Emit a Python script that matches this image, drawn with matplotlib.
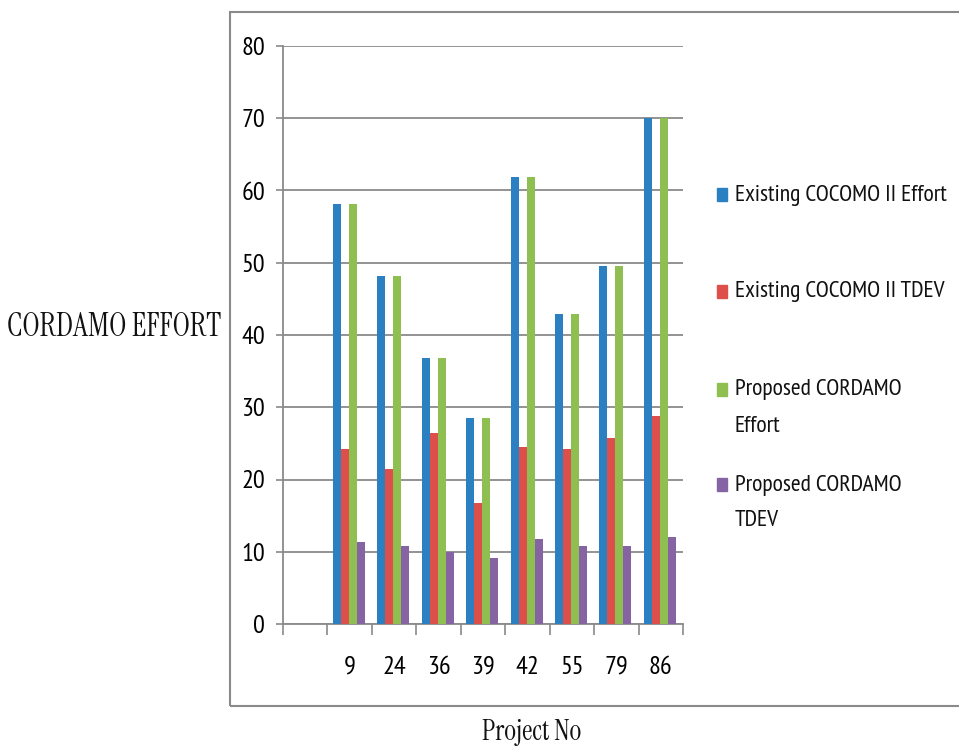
import matplotlib
matplotlib.use("Agg")

import matplotlib.pyplot as plt
import matplotlib.patches as mpatches
import numpy as np

# Projects and estimates
projects = ["9", "24", "36", "39", "42", "55", "79", "86"]
existing_effort = [58.2, 48.2, 36.8, 28.5, 61.8, 42.9, 49.5, 70.0]
existing_tdev = [24.2, 21.5, 26.5, 16.8, 24.5, 24.2, 25.8, 28.8]
proposed_effort = [58.2, 48.2, 36.8, 28.5, 61.8, 42.9, 49.5, 70.0]
proposed_tdev = [11.4, 10.8, 9.9, 9.1, 11.8, 10.8, 10.8, 12.1]

series_names = ["Existing COCOMO II Effort", "Existing COCOMO II TDEV",
                "Proposed CORDAMO\nEffort", "Proposed CORDAMO\nTDEV"]
series_values = [existing_effort, existing_tdev, proposed_effort, proposed_tdev]
colors = ["#2a80c0", "#dc4f4b", "#8fbf50", "#8664a4"]

GRAY = "#8a8a8a"
SANS = ["PT Sans Narrow", "Roboto Condensed", "DejaVu Sans"]
SERIF = ["Noto Serif Condensed", "Instrument Serif", "Liberation Serif"]

W, H = 959, 749
fig = plt.figure(figsize=(W / 100, H / 100), dpi=100)
ax = fig.add_axes([283 / W, (H - 624) / H, 400 / W, 578 / H])

# first category slot stays empty, projects start at 1
x = np.arange(1, len(projects) + 1)
bar_w = 0.18
offsets = (np.arange(4) - 1.5) * bar_w
for vals, off, col in zip(series_values, offsets, colors):
    ax.bar(x + off - 0.02, vals, width=bar_w, color=col, zorder=3)

ax.set_xlim(-0.5, len(projects) + 0.5)
ax.set_ylim(0, 80)
ax.set_yticks(np.arange(0, 81, 10))
ax.yaxis.grid(True, color=GRAY, linewidth=1.3, zorder=1)
ax.set_axisbelow(True)

ax.set_xticks(x)
ax.set_xticklabels(projects, family=SANS, fontsize=19)
ax.set_xticks(np.arange(-0.5, len(projects) + 1, 1), minor=True)
ax.tick_params(axis="x", which="major", length=0, pad=23)
ax.tick_params(axis="x", which="minor", length=8, width=1.2, color=GRAY)
ax.tick_params(axis="y", length=5, width=1.2, color=GRAY, pad=8)
for lab in ax.get_yticklabels():
    lab.set_family(SANS)
    lab.set_fontsize(19)

for s in ["top", "right"]:
    ax.spines[s].set_visible(False)
for s in ["left", "bottom"]:
    ax.spines[s].set_color(GRAY)
    ax.spines[s].set_linewidth(1.3)

# outer chart frame
fig.patches.append(mpatches.Rectangle(
    (230 / W, (H - 706) / H), (W - 230) / W + 0.02, (706 - 12) / H,
    transform=fig.transFigure, fill=False, edgecolor=GRAY, linewidth=1.5))

# legend drawn as boxes + text on the right
legend_y = [195, 292, 390, 485]
for name, col, ly in zip(series_names, colors, legend_y):
    fig.patches.append(mpatches.Rectangle(
        (717 / W, (H - ly - 6) / H), 10 / W, 13 / H,
        transform=fig.transFigure, color=col))
    for i, line in enumerate(name.split("\n")):
        fig.text(735 / W, (H - ly - i * 36) / H, line, family=SANS,
                 fontsize=17, va="center", ha="left", color="#111111")

fig.text(114 / W, (H - 328) / H, "CORDAMO EFFORT", family=SERIF,
         fontsize=23, ha="center", va="center", color="#111111")
fig.text(532 / W, (H - 732) / H, "Project No", family=SERIF,
         fontsize=20.5, ha="center", va="center", color="#111111")

fig.savefig("out.png", dpi=100)
